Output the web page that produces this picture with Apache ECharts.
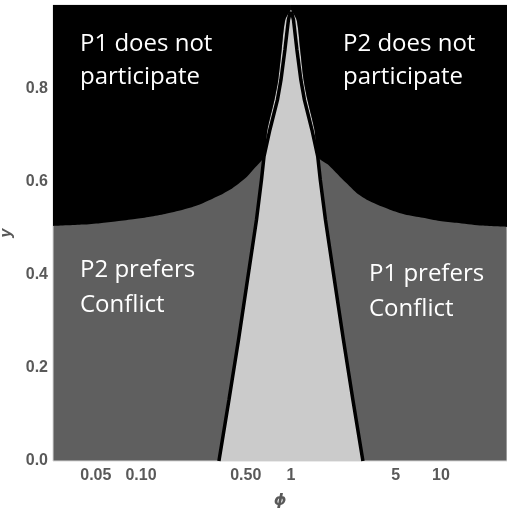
<!DOCTYPE html>
<html>
<head>
<meta charset="utf-8">
<script src="https://cdn.jsdelivr.net/npm/echarts@6/dist/echarts.min.js"></script>
<style>
  html, body { margin: 0; padding: 0; background: #fff; }
  #chart { width: 507px; height: 514px; }
</style>
</head>
<body>
<div id="chart"></div>
<script>
// axis ticks
var xTicks = [0.05, 0.1, 0.5, 1, 5, 10];
var xTickText = ['0.05', '0.10', '0.50', '1', '5', '10'];
var yTicks = [0, 0.2, 0.4, 0.6, 0.8];

// conflict boundaries (the two black lines)
var lineY = [0, 0.131, 0.260, 0.389, 0.518, 0.604, 0.654, 0.712, 0.776, 0.819, 0.884, 0.948, 0.966];
var leftLinePhi = [0.331, 0.386, 0.447, 0.513, 0.589, 0.636, 0.661, 0.724, 0.813, 0.858, 0.912, 0.962, 0.992];
var rightLinePhi = [3.02, 2.59, 2.24, 1.95, 1.70, 1.57, 1.51, 1.38, 1.23, 1.165, 1.096, 1.04, 1.008];

// participation boundary (black region sits above it)
var leftEdgePhi = [0.0259, 0.041, 0.0533, 0.0692, 0.0912, 0.1148, 0.1445, 0.1905, 0.236, 0.288, 0.336, 0.392, 0.443, 0.509, 0.575, 0.661,
                   0.697, 0.776, 0.823, 0.867, 0.916, 1.0];
var leftEdgeY   = [0.505, 0.508, 0.511, 0.515, 0.520, 0.525, 0.531, 0.540, 0.549, 0.561, 0.571, 0.583, 0.595, 0.611, 0.630, 0.654,
                   0.712, 0.776, 0.819, 0.884, 0.948, 0.97];
var rightEdgePhi = [1.0, 1.092, 1.153, 1.215, 1.289, 1.435, 1.51,
                    1.765, 2.12, 2.40, 2.74, 3.36, 4.57, 5.75, 7.59, 9.84, 12.7, 18.2, 27.6];
var rightEdgeY   = [0.97, 0.948, 0.884, 0.819, 0.776, 0.712, 0.654,
                    0.637, 0.611, 0.594, 0.576, 0.558, 0.540, 0.530, 0.523, 0.516, 0.512, 0.506, 0.503];

var DARK = '#5f5f5f', LIGHT = '#cbcbcb', BLACK = '#000000';

function pairs(xs, ys) {
  var out = [];
  for (var i = 0; i < xs.length; i++) out.push([xs[i], ys[i]]);
  return out;
}

var leftLine = pairs(leftLinePhi, lineY);
var rightLine = pairs(rightLinePhi, lineY);
var leftEdge = pairs(leftEdgePhi, leftEdgeY);
var rightEdge = pairs(rightEdgePhi, rightEdgeY);

// light region between the lines
var tent = leftLine.concat(rightLine.slice().reverse());
// light sliver of the spike above where the lines cross the edge
var spike = leftEdge.slice(15).concat(rightEdge.slice(1, 7));
// whole black boundary, split at the spike tip
var edgeL = leftEdge;
var edgeR = rightEdge;

var myChart = echarts.init(document.getElementById('chart'));

var labelFont = { fontFamily: 'Liberation Sans', fontWeight: 'bold', fontSize: 16, color: '#595959' };
var noteFont = '24px "Open Sans"';

function blackArea(data) {
  return {
    type: 'line', data: data, symbol: 'none', silent: true,
    smooth: 0.25,
    lineStyle: { width: 0 },
    areaStyle: { color: BLACK, opacity: 1, origin: 'end' }
  };
}

var option = {
  animation: false,
  grid: {
    left: 53, right: 0, top: 5, bottom: 53,
    show: true,
    backgroundColor: DARK,
    borderColor: '#d6d6d6',
    borderWidth: 1,
    outerBoundsMode: 'none'
  },
  xAxis: {
    type: 'log',
    logBase: 10,
    min: 0.0259,
    max: 27.6,
    name: 'ϕ',
    nameLocation: 'middle',
    nameGap: 32,
    nameTextStyle: { fontFamily: 'DejaVu Sans', fontStyle: 'italic', fontWeight: 'bold', fontSize: 16, color: '#595959' },
    axisLine: { show: false },
    axisTick: { show: false },
    splitLine: { show: false },
    axisLabel: {
      customValues: xTicks,
      margin: 7,
      fontFamily: labelFont.fontFamily,
      fontWeight: labelFont.fontWeight,
      fontSize: labelFont.fontSize,
      color: labelFont.color,
      formatter: function (v) {
        for (var i = 0; i < xTicks.length; i++) {
          if (Math.abs(xTicks[i] - v) < 1e-9) return xTickText[i];
        }
        return '';
      }
    }
  },
  yAxis: {
    type: 'value',
    min: 0,
    max: 0.98,
    name: 'y',
    nameLocation: 'middle',
    nameGap: 28,
    nameTextStyle: { fontFamily: 'Liberation Sans', fontStyle: 'italic', fontWeight: 'bold', fontSize: 16, color: '#595959' },
    axisLine: { show: false },
    axisTick: { show: false },
    splitLine: { show: false },
    axisLabel: {
      customValues: yTicks,
      margin: 5,
      fontFamily: labelFont.fontFamily,
      fontWeight: labelFont.fontWeight,
      fontSize: labelFont.fontSize,
      color: labelFont.color,
      formatter: function (v) { return v.toFixed(1); }
    }
  },
  series: [
    {
      type: 'line', data: tent, symbol: 'none', silent: true,
      lineStyle: { width: 0 },
      areaStyle: { color: LIGHT, opacity: 1, origin: 'start' }
    },
    {
      type: 'line', data: spike, symbol: 'none', silent: true,
      smooth: 0.25,
      lineStyle: { width: 0 },
      areaStyle: { color: LIGHT, opacity: 1, origin: 'start' }
    },
    blackArea(edgeL),
    blackArea(edgeR),
    {
      type: 'line', data: leftLine, symbol: 'none', silent: true,
      lineStyle: { color: BLACK, width: 3.5 }
    },
    {
      type: 'line', data: rightLine, symbol: 'none', silent: true,
      lineStyle: { color: BLACK, width: 3.5 }
    }
  ],
  graphic: [
    { type: 'text', left: 80, top: 28, z: 100, silent: true,
      style: { text: 'P1 does not\nparticipate', fill: '#fff', font: noteFont, lineHeight: 33 } },
    { type: 'text', left: 343, top: 28, z: 100, silent: true,
      style: { text: 'P2 does not\nparticipate', fill: '#fff', font: noteFont, lineHeight: 33 } },
    { type: 'text', left: 80, top: 253, z: 100, silent: true,
      style: { text: 'P2 prefers\nConflict', fill: '#fff', font: noteFont, lineHeight: 35 } },
    { type: 'text', left: 369, top: 257, z: 100, silent: true,
      style: { text: 'P1 prefers\nConflict', fill: '#fff', font: noteFont, lineHeight: 35 } }
  ]
};

myChart.setOption(option);
</script>
</body>
</html>
